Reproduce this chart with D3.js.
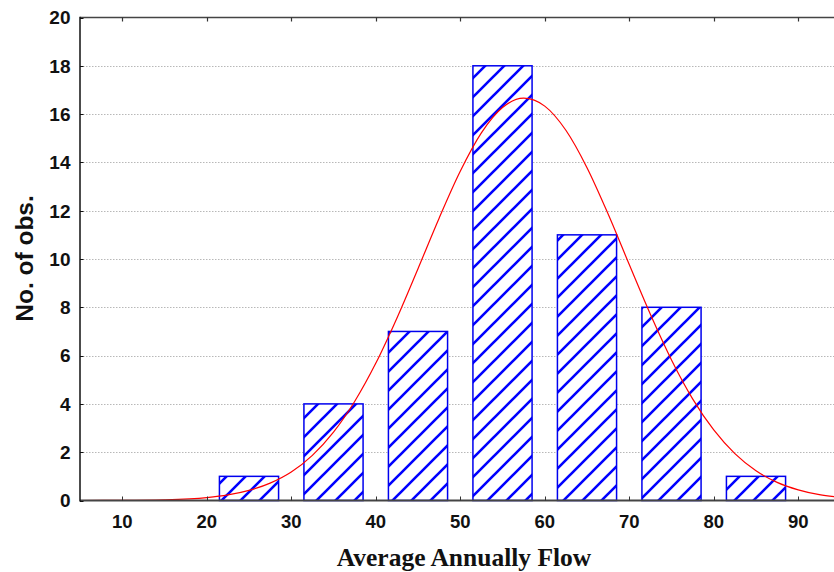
<!DOCTYPE html>
<html>
<head>
<meta charset="utf-8">
<script src="https://cdn.jsdelivr.net/npm/d3@7"></script>
<style>
  html, body { margin: 0; padding: 0; background: #fff; overflow: hidden; }
  svg { display: block; }
</style>
</head>
<body>
<svg id="chart" width="834" height="572"></svg>
<script>
// ---- data ----
const binStarts = [20, 30, 40, 50, 60, 70, 80];
const binEnds   = [30, 40, 50, 60, 70, 80, 90];
const counts    = [1, 4, 7, 18, 11, 8, 1];
const xTicks = [10, 20, 30, 40, 50, 60, 70, 80, 90];
const yTicks = [0, 2, 4, 6, 8, 10, 12, 14, 16, 18, 20];
// fitted normal curve
const curveX = [5, 10, 15, 20, 22.5, 25, 27.5, 30, 32.5, 35, 37.5, 40, 42.5, 45, 47.5, 50, 52.5, 55, 57.5,
                60, 62.5, 65, 67.5, 70, 72.5, 75, 77.5, 80, 82.5, 85, 87.5, 90, 92.5, 95];
const curveY = [0.001, 0.006, 0.03, 0.12, 0.23, 0.42, 0.72, 1.18, 1.87, 2.83, 4.10, 5.68, 7.55, 9.60, 11.69, 13.63, 15.22, 16.27, 16.66,
                16.33, 15.33, 13.78, 11.86, 9.77, 7.71, 5.82, 4.21, 2.92, 1.94, 1.23, 0.75, 0.44, 0.24, 0.13];
const xLabel = "Average Annually Flow";
const yLabel = "No. of obs.";

(function () {
// ---- layout ----
const svg = d3.select("#chart");
const pLeft = 80, pRight = 840.5, pTop = 17.5, pBottom = 500.5;
const x = d3.scaleLinear().domain([5, 95]).range([pLeft, pRight]);
const y = d3.scaleLinear().domain([0, 20]).range([pBottom, pTop]);

// hatch pattern
const defs = svg.append("defs");
const pat = defs.append("pattern")
  .attr("id", "hatch").attr("patternUnits", "userSpaceOnUse")
  .attr("width", 19).attr("height", 19);
pat.append("path")
  .attr("d", "M-4.75,4.75 L4.75,-4.75 M0,19 L19,0 M14.25,23.75 L23.75,14.25")
  .attr("stroke", "#0000ff").attr("stroke-width", 2.6);

// gridlines
svg.append("g").selectAll("line")
  .data(yTicks.filter(d => d > 0 && d < 20))
  .join("line")
  .attr("x1", pLeft).attr("x2", 834)
  .attr("y1", d => Math.round(y(d)) + 0.5).attr("y2", d => Math.round(y(d)) + 0.5)
  .attr("stroke", "#b8b8b8").attr("stroke-width", 1).attr("stroke-dasharray", "1.5,1.5");

// bars
const bars = svg.append("g");
const bw = 0.7;
counts.forEach((c, i) => {
  const x0 = binStarts[i], x1 = binEnds[i];
  const w = (x1 - x0);
  const a = x(x0 + w * (1 - bw) / 2), b = x(x1 - w * (1 - bw) / 2);
  bars.append("rect")
    .attr("x", a).attr("y", y(c)).attr("width", b - a).attr("height", y(0) - y(c))
    .attr("fill", "#fff");
  bars.append("rect")
    .attr("x", a).attr("y", y(c)).attr("width", b - a).attr("height", y(0) - y(c))
    .attr("fill", "url(#hatch)").attr("stroke", "#0000ee").attr("stroke-width", 1.5);
});

// curve
const line = d3.line().x((d, i) => x(curveX[i])).y(d => y(d)).curve(d3.curveMonotoneX);
svg.append("path").datum(curveY)
  .attr("d", line).attr("fill", "none").attr("stroke", "#ff0000").attr("stroke-width", 1.2);

// axes frame
const axisColor = "#333";
svg.append("line").attr("x1", pLeft).attr("x2", 834).attr("y1", pBottom).attr("y2", pBottom)
  .attr("stroke", "#444").attr("stroke-width", 2);
svg.append("line").attr("x1", pLeft).attr("x2", 834).attr("y1", pTop).attr("y2", pTop)
  .attr("stroke", "#444").attr("stroke-width", 1.6);
svg.append("line").attr("x1", pLeft).attr("x2", pLeft).attr("y1", pTop - 0.8).attr("y2", pBottom + 1)
  .attr("stroke", "#111").attr("stroke-width", 1.5);

// x ticks (inward) bottom & top
const gx = svg.append("g");
xTicks.forEach(t => {
  const px = Math.round(x(t)) + 0.5;
  gx.append("line").attr("x1", px).attr("x2", px).attr("y1", pBottom).attr("y2", pBottom - 4)
    .attr("stroke", axisColor).attr("stroke-width", 1);
  gx.append("line").attr("x1", px).attr("x2", px).attr("y1", pTop).attr("y2", pTop + 4)
    .attr("stroke", axisColor).attr("stroke-width", 1.2);
  gx.append("text").attr("x", x(t)).attr("y", 527.5)
    .attr("text-anchor", "middle")
    .attr("font-family", "Liberation Sans, Arial, sans-serif").attr("font-weight", "bold")
    .attr("font-size", 18.5).attr("fill", "#111").text(t);
});

// y ticks (inward) and labels
const gy = svg.append("g");
yTicks.forEach(t => {
  const py = Math.round(y(t)) + 0.5;
  gy.append("line").attr("x1", pLeft).attr("x2", pLeft + 3.5).attr("y1", py).attr("y2", py)
    .attr("stroke", "#111").attr("stroke-width", 1);
  gy.append("text").attr("x", 70.5).attr("y", y(t)).attr("dy", "0.36em")
    .attr("text-anchor", "end")
    .attr("font-family", "Liberation Sans, Arial, sans-serif").attr("font-weight", "bold")
    .attr("font-size", 19).attr("fill", "#111").text(t);
});

// axis titles
svg.append("text").attr("x", 464).attr("y", 566)
  .attr("text-anchor", "middle")
  .attr("font-family", "Liberation Serif, Times New Roman, serif").attr("font-weight", "bold")
  .attr("font-size", 25.5).attr("fill", "#111").text(xLabel);
svg.append("text")
  .attr("transform", "translate(33,258.5) rotate(-90)")
  .attr("text-anchor", "middle")
  .attr("font-family", "Liberation Sans, Arial, sans-serif").attr("font-weight", "bold")
  .attr("font-size", 24.5).attr("fill", "#111").text(yLabel);
})();
</script>
</body>
</html>
